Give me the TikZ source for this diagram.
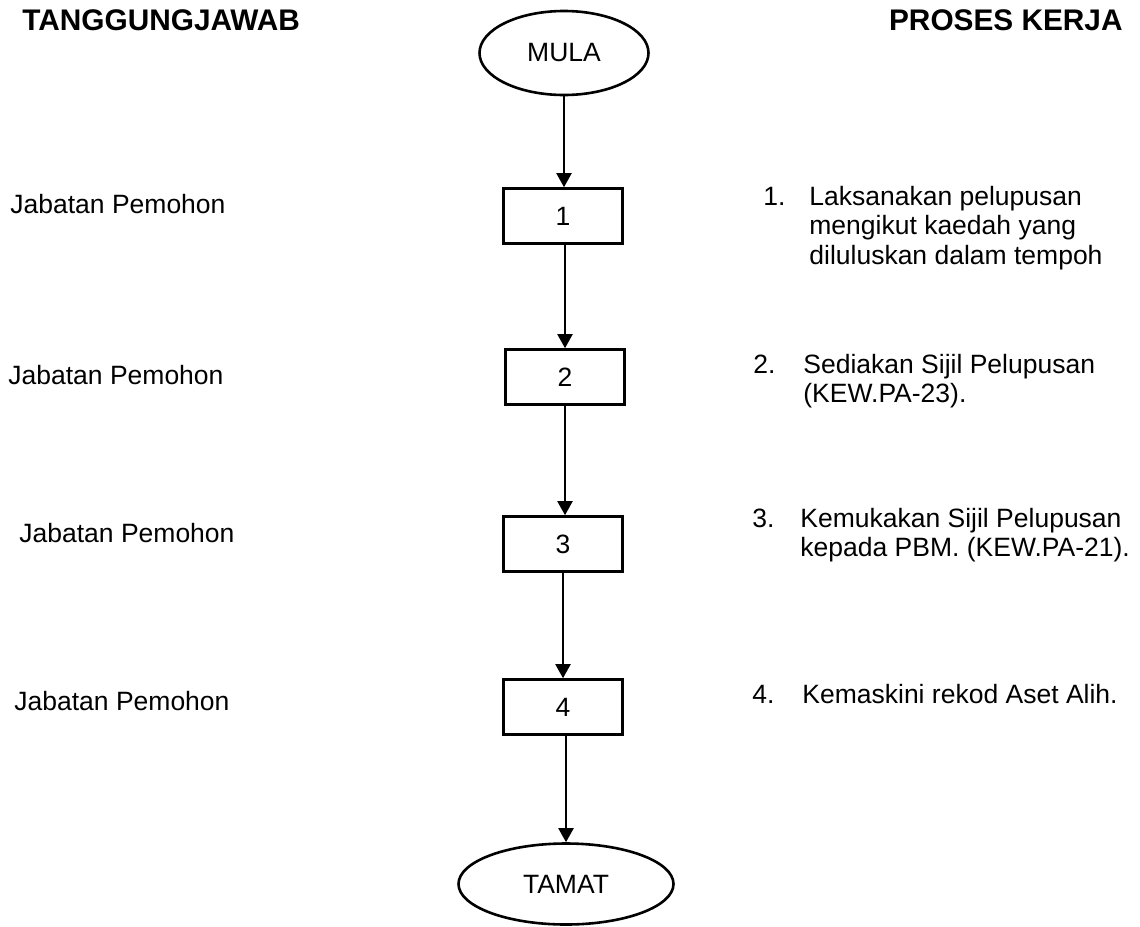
\documentclass[tikz,border=0pt]{standalone}
\usepackage{fontspec}
\setmainfont{Liberation Sans}
\usetikzlibrary{shapes.geometric,arrows.meta}

\begin{document}
\begin{tikzpicture}[x=0.5pt,y=-0.5pt,
    txt/.style={inner sep=0pt,font=\fontsize{13.25}{14.75}\selectfont},
    head/.style={inner sep=0pt,font=\fontsize{14.9}{17}\selectfont\bfseries},
    stepbox/.style={draw,line width=1.3pt,minimum width=59.5pt,minimum height=27.5pt,inner sep=0pt,font=\fontsize{13.25}{14.75}\selectfont},
    terminal/.style={draw,ellipse,line width=1.3pt,inner sep=0pt,font=\fontsize{13.25}{14.75}\selectfont},
    flow/.style={line width=1pt,-{Triangle[width=7.5pt,length=7pt]}}]
    \useasboundingbox (0,0) rectangle (1140,926);

    % headings
    \node[head,anchor=base west] (hdresp) at (22,30) {TANGGUNGJAWAB};
    \node[head,anchor=base east] (hdproc) at (1123,31) {PROSES KERJA};

    % flow
    \node[terminal,minimum width=84.5pt,minimum height=42pt] (mula) at (564,53) {MULA};
    \node[stepbox] (b1) at (563,216) {1};
    \node[stepbox] (b2) at (565,377) {2};
    \node[stepbox] (b3) at (563,544) {3};
    \node[stepbox] (b4) at (563,707) {4};
    \node[terminal,minimum width=107.5pt,minimum height=40.5pt] (tamat) at (566,884) {TAMAT};

    \draw[flow] (mula) -- (mula |- b1.north);
    \draw[flow] (b2.north |- b1.south) -- (b2.north);
    \draw[flow] (b2.south) -- (b2.south |- b3.north);
    \draw[flow] (b3) -- (b4);
    \draw[flow] (tamat.north |- b4.south) -- (tamat);

    % tanggungjawab
    \node[txt,anchor=base west] (resp1) at (10,213) {Jabatan Pemohon};
    \node[txt,anchor=base west] (resp2) at (8,384) {Jabatan Pemohon};
    \node[txt,anchor=base west] (resp3) at (19,542) {Jabatan Pemohon};
    \node[txt,anchor=base west] (resp4) at (14,710) {Jabatan Pemohon};

    % proses kerja
    \node[txt,anchor=base west] (num1) at (763,205) {1.};
    \node[txt,anchor=base west] (proc1) at (809,205)
        {\begin{tabular}[t]{@{}l@{}}Laksanakan pelupusan\\mengikut kaedah yang\\diluluskan dalam tempoh\end{tabular}};
    \node[txt,anchor=base west] (num2) at (753,373) {2.};
    \node[txt,anchor=base west] (proc2) at (803,373)
        {\begin{tabular}[t]{@{}l@{}}Sediakan Sijil Pelupusan\\(KEW.PA-23).\end{tabular}};
    \node[txt,anchor=base west] (num3) at (752,527) {3.};
    \node[txt,anchor=base west] (proc3) at (800,527)
        {\begin{tabular}[t]{@{}l@{}}Kemukakan Sijil Pelupusan\\kepada PBM. (KEW.PA-21).\end{tabular}};
    \node[txt,anchor=base west] (num4) at (752,703) {4.};
    \node[txt,anchor=base west] (proc4) at (802,703) {Kemaskini rekod Aset Alih.};
\end{tikzpicture}
\end{document}
